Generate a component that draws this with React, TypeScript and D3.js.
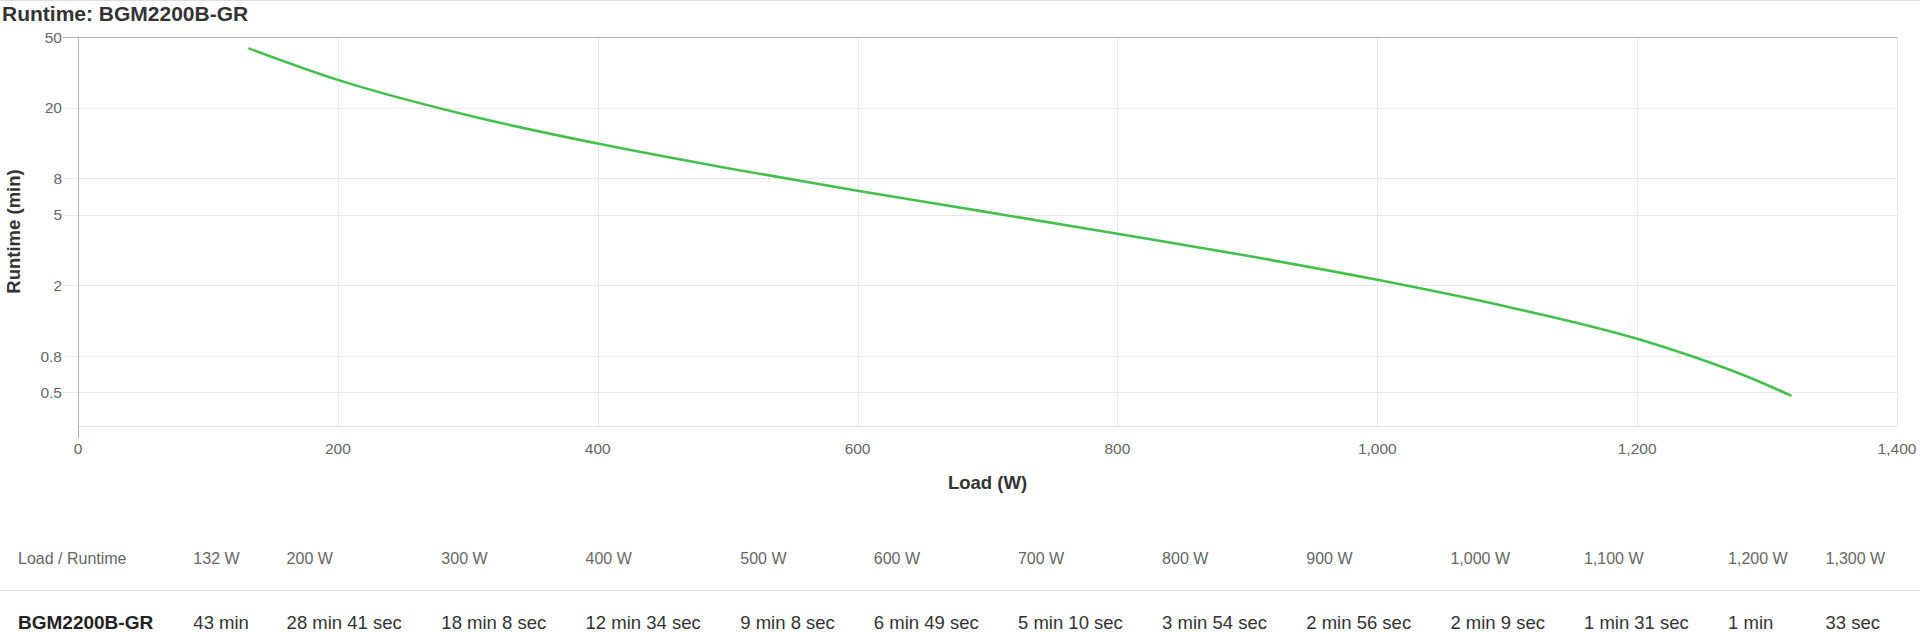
import React from "react";
import * as d3 from "d3";

// ---- data ----
const MODEL = "BGM2200B-GR";
const TITLE = "Runtime: BGM2200B-GR";
const LOADS = [132, 200, 300, 400, 500, 600, 700, 800, 900, 1000, 1100, 1200, 1300];
const RUNTIME_SEC = [2580, 1721, 1088, 754, 548, 409, 310, 234, 176, 129, 91, 60, 33];
const CURVE_END_LOAD = 1318;
const CURVE_END_MIN = 0.48;
const X_TICKS = [0, 200, 400, 600, 800, 1000, 1200, 1400];
const Y_TICKS = [50, 20, 8, 5, 2, 0.8, 0.5];
const X_DOMAIN = [0, 1400];
const Y_DOMAIN = [0.323, 50];

// ---- layout ----
const W = 1920;
const H = 632;
const TABLE_W = 1905;
const PLOT = { left: 78, right: 1897, top: 37, bottom: 426 };
const FONT = "'Liberation Sans', Arial, Helvetica, sans-serif";

function fmtRuntime(s: number): string {
  const m = Math.floor(s / 60);
  const sec = s % 60;
  if (m > 0 && sec > 0) return `${m} min ${sec} sec`;
  if (m > 0) return `${m} min`;
  return `${sec} sec`;
}

let _ctx: CanvasRenderingContext2D | null = null;
function measure(text: string, font: string): number {
  if (!_ctx) _ctx = document.createElement("canvas").getContext("2d");
  if (!_ctx) return text.length * 9;
  _ctx.font = font;
  return _ctx.measureText(text).width;
}

export default function App() {
  React.useEffect(() => {
    document.body.style.margin = "0";
  }, []);

  const x = d3.scaleLinear().domain(X_DOMAIN).range([PLOT.left, PLOT.right]);
  const y = d3.scaleLog().domain(Y_DOMAIN).range([PLOT.bottom, PLOT.top]);
  const fmt = d3.format(",");

  const pts: [number, number][] = LOADS.map((l, i) => [l, RUNTIME_SEC[i] / 60]);
  pts.push([CURVE_END_LOAD, CURVE_END_MIN]);
  const line = d3
    .line<[number, number]>()
    .x((d) => x(d[0]))
    .y((d) => y(d[1]))
    .curve(d3.curveMonotoneX);

  // table layout (auto layout like an HTML table)
  const headFont = `16px ${FONT}`;
  const valFont = `18.5px ${FONT}`;
  const labFont = `bold 19px ${FONT}`;
  const headers = ["Load / Runtime", ...LOADS.map((l) => `${fmt(l)} W`)];
  const values = [MODEL, ...RUNTIME_SEC.map(fmtRuntime)];
  const contents = headers.map((h, i) =>
    Math.max(measure(h, headFont), measure(values[i], i === 0 ? labFont : valFont))
  );
  const PAD = 36;
  const C = d3.sum(contents);
  const k = (TABLE_W - PAD * contents.length - C) / C;
  const widths = contents.map((c) => c * (1 + k) + PAD);
  const starts: number[] = [];
  let acc = 0;
  widths.forEach((w) => {
    starts.push(acc);
    acc += w;
  });

  return (
    <svg width={W} height={H} style={{ display: "block", background: "#fff" }} fontFamily={FONT}>
      <line x1={0} x2={W} y1={0.5} y2={0.5} stroke="#dedede" />
      <text x={2} y={21} fontSize={21} fontWeight="bold" fill="#333">
        {TITLE}
      </text>

      {/* vertical grid */}
      {X_TICKS.filter((t) => t > 0).map((t) => (
        <line
          key={"vx" + t}
          x1={Math.round(x(t)) + 0.5}
          x2={Math.round(x(t)) + 0.5}
          y1={PLOT.top}
          y2={PLOT.bottom}
          stroke="#e6e6e6"
        />
      ))}
      {/* horizontal grid */}
      {Y_TICKS.map((t) => (
        <line
          key={"hy" + t}
          x1={63}
          x2={PLOT.right}
          y1={Math.round(y(t)) + 0.5}
          y2={Math.round(y(t)) + 0.5}
          stroke={t === Y_TICKS[0] ? "#b3b3b3" : "#e6e6e6"}
        />
      ))}
      <line x1={PLOT.left} x2={PLOT.right} y1={PLOT.bottom + 0.5} y2={PLOT.bottom + 0.5} stroke="#e0e0e0" />
      <line
        x1={Math.round(PLOT.left) + 0.5}
        x2={Math.round(PLOT.left) + 0.5}
        y1={PLOT.top}
        y2={438}
        stroke="#b3b3b3"
      />

      {/* y tick labels */}
      {Y_TICKS.map((t) => (
        <text key={"yl" + t} x={62} y={y(t) + 5.5} textAnchor="end" fontSize={15.5} fill="#666">
          {t}
        </text>
      ))}
      {/* x tick labels */}
      {X_TICKS.map((t) => (
        <text key={"xl" + t} x={x(t)} y={454} textAnchor="middle" fontSize={15.5} fill="#666">
          {fmt(t)}
        </text>
      ))}

      <text
        transform={`translate(20,${(PLOT.top + PLOT.bottom) / 2}) rotate(-90)`}
        textAnchor="middle"
        fontSize={18.5}
        fontWeight="bold"
        fill="#333"
      >
        Runtime (min)
      </text>
      <text x={(PLOT.left + PLOT.right) / 2} y={489} textAnchor="middle" fontSize={18.5} fontWeight="bold" fill="#333">
        Load (W)
      </text>

      <path d={line(pts) || ""} fill="none" stroke="#43c04c" strokeWidth={2.6} strokeLinejoin="round" strokeLinecap="round" />

      {/* table */}
      {headers.map((h, i) => (
        <text key={"th" + i} x={starts[i] + PAD / 2} y={564} fontSize={16} fill="#666">
          {h}
        </text>
      ))}
      <line x1={0} x2={W} y1={590.5} y2={590.5} stroke="#e2e2e2" />
      {values.map((v, i) => (
        <text
          key={"td" + i}
          x={starts[i] + PAD / 2}
          y={629}
          fontSize={i === 0 ? 19 : 18.5}
          fontWeight={i === 0 ? "bold" : "normal"}
          fill={i === 0 ? "#222" : "#333"}
        >
          {v}
        </text>
      ))}
    </svg>
  );
}
